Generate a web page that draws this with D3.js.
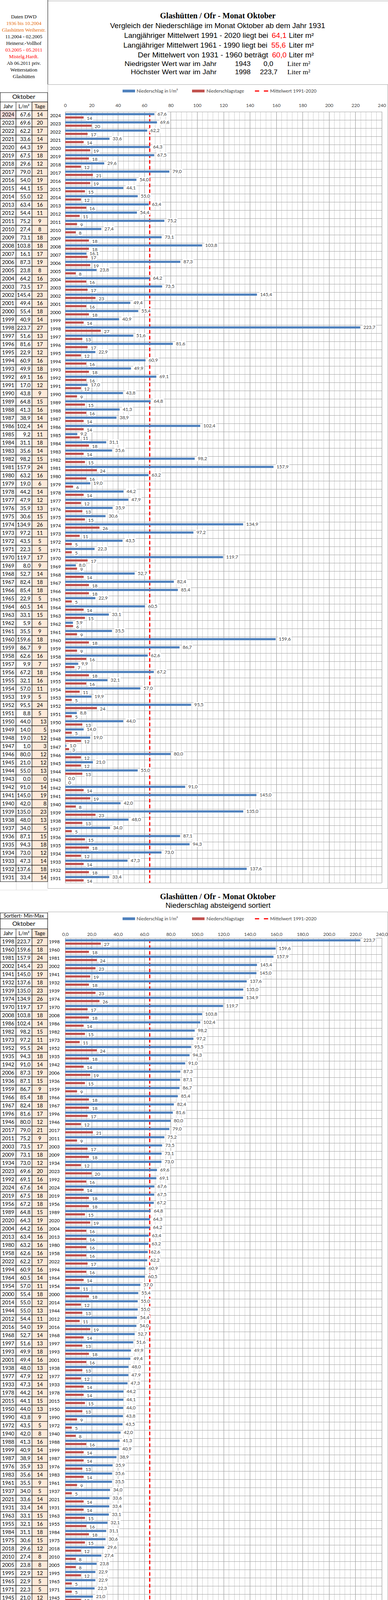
<!DOCTYPE html>
<html>
<head>
<meta charset="utf-8">
<script src="https://cdn.jsdelivr.net/npm/d3@7"></script>
<style>
  html, body { margin: 0; padding: 0; background: #fff; overflow: hidden; }
  svg { display: block; }
  text { font-family: Lato, "Open Sans", "Liberation Sans", sans-serif; }
  .serif { font-family: "Liberation Serif", "DejaVu Serif", serif; }
  .arial { font-family: "Liberation Sans", Arial, sans-serif; }
</style>
</head>
<body>
<svg id="chart" width="994" height="4397"></svg>
<script>
"use strict";

// October data, newest first (as in the original table)
var years = [2024, 2023, 2022, 2021, 2020, 2019, 2018, 2017, 2016, 2015, 2014, 2013, 2012, 2011, 2010, 2009,
  2008, 2007, 2006, 2005, 2004, 2003, 2002, 2001, 2000, 1999, 1998, 1997, 1996, 1995, 1994, 1993,
  1992, 1991, 1990, 1989, 1988, 1987, 1986, 1985, 1984, 1983, 1982, 1981, 1980, 1979, 1978, 1977,
  1976, 1975, 1974, 1973, 1972, 1971, 1970, 1969, 1968, 1967, 1966, 1965, 1964, 1963, 1962, 1961,
  1960, 1959, 1958, 1957, 1956, 1955, 1954, 1953, 1952, 1951, 1950, 1949, 1948, 1947, 1946, 1945,
  1944, 1943, 1942, 1941, 1940, 1939, 1938, 1937, 1936, 1935, 1934, 1933, 1932, 1931];

// Niederschlag in l/m²
var rain = [67.6, 69.6, 62.2, 33.6, 64.3, 67.5, 29.6, 79.0, 54.0, 44.1, 55.0, 63.4, 54.4, 75.2, 27.4, 73.1,
  103.8, 16.1, 87.3, 23.8, 64.2, 73.5, 145.4, 49.4, 55.4, 40.9, 223.7, 51.6, 81.6, 22.9, 60.9, 49.9,
  69.1, 17.0, 43.8, 64.8, 41.3, 38.9, 102.4, 9.2, 31.1, 35.6, 98.2, 157.9, 63.2, 19.0, 44.2, 47.9,
  35.9, 30.6, 134.9, 97.2, 43.5, 22.3, 119.7, 8.0, 52.7, 82.4, 85.4, 22.9, 60.5, 33.1, 5.9, 35.5,
  159.6, 86.7, 62.6, 9.9, 67.2, 32.1, 57.0, 19.9, 95.5, 8.8, 44.0, 14.0, 19.0, 1.0, 80.0, 21.0,
  55.0, 0.0, 91.0, 145.0, 42.0, 135.0, 48.0, 34.0, 87.1, 94.3, 73.0, 47.3, 137.6, 33.4];

// Niederschlagstage
var days = [14, 20, 17, 14, 19, 18, 12, 21, 19, 15, 12, 16, 11, 9, 8, 18,
  18, 17, 19, 8, 16, 17, 23, 16, 18, 14, 27, 13, 17, 12, 16, 18,
  16, 12, 9, 15, 16, 14, 14, 11, 18, 14, 15, 24, 16, 6, 14, 12,
  13, 15, 26, 11, 5, 5, 17, 9, 14, 18, 18, 5, 14, 15, 6, 9,
  18, 9, 16, 7, 18, 16, 11, 5, 24, 5, 13, 5, 12, 3, 12, 12,
  13, 0, 14, 19, 8, 23, 13, 5, 15, 18, 12, 14, 18, 14];

var xTicks = [0, 20, 40, 60, 80, 100, 120, 140, 160, 180, 200, 220, 240];

// long-term means (l/m²)
var meanLabels = ["1991 - 2020", "1961 - 1990", "1931 - 1960"];
var meanValues = [64.1, 55.6, 60.0];

var stationLines = ["Daten DWD", "1936 bis 10.2004", "Glashütten Weiherstr.", "11.2004 - 02.2005",
  "Heinersr.-Vollhof", "03.2005 - 05.2011", "Mistelg.Hardt.", "Ab 06.2011 priv.", "Wetterstation", "Glashütten"];

var legendLabels = ["Niederschlag  in  l/m²", "Niederschlagstage", "Mittelwert 1991-2020"];

// ---------------------------------------------------------------
var rows = years.map(function (y, i) { return { year: y, rain: rain[i], days: days[i] }; });
var sorted = rows.slice().sort(function (a, b) { return d3.descending(a.rain, b.rain); });

var de = d3.formatLocale({ decimal: ",", thousands: ".", grouping: [3], currency: ["", " €"] });
var f1 = de.format(".1f");

var BLUE = "#4f81bd", RED = "#c0504d", DASH = "#ff0000";
var rowH = 21;
var x = d3.scaleLinear().domain([0, 240]).range([167, 978]);

var svg = d3.select("#chart");

// text with a forced width (the original uses narrow, tall fonts)
function put(g, s, px, py, w, size, color, cls, weight) {
  var t = g.append("text").attr("x", px).attr("y", py).attr("font-size", size)
    .attr("fill", color || "#000").text(s);
  if (w) t.attr("textLength", w).attr("lengthAdjust", "spacingAndGlyphs");
  if (cls) t.attr("class", cls);
  if (weight) t.attr("font-weight", weight);
  return t;
}

function legend(g, ly) {
  g.append("rect").attr("x", 314).attr("y", ly - 3.5).attr("width", 32).attr("height", 7).attr("fill", BLUE);
  put(g, legendLabels[0], 350, ly + 4, 0, 12, "#404040");
  g.append("rect").attr("x", 492).attr("y", ly - 3.5).attr("width", 32).attr("height", 7).attr("fill", RED);
  put(g, legendLabels[1], 529, ly + 4, 0, 12, "#404040");
  g.append("line").attr("x1", 653).attr("x2", 688).attr("y1", ly).attr("y2", ly)
    .attr("stroke", DASH).attr("stroke-width", 3).attr("stroke-dasharray", "11,12");
  put(g, legendLabels[2], 692, ly + 4, 0, 12, "#404040");
}

function panel(data, opt) {
  var g = svg.append("g");
  var top = opt.plotTop, bottom = top + data.length * rowH;

  var y = d3.scaleBand().domain(data.map(function (d) { return d.year; })).range([top, bottom]);
  var sub = d3.scaleBand().domain(["rain", "days"]).range([0, y.bandwidth()])
    .paddingInner(0.35).paddingOuter(0.41);

  // chart area frame
  g.append("rect").attr("x", 122.5).attr("y", opt.frameTop + 0.5).attr("width", 871)
    .attr("height", opt.frameBottom - opt.frameTop).attr("fill", "none").attr("stroke", "#a6a6a6");

  legend(g, opt.legendY);

  // gridlines: minor every 4, major every 20
  var grid = g.append("g").attr("class", "grid");
  grid.selectAll(".minor").data(d3.range(0, 241, 4)).join("line").attr("class", "minor")
    .attr("x1", function (d) { return Math.round(x(d)) + 0.5; })
    .attr("x2", function (d) { return Math.round(x(d)) + 0.5; })
    .attr("y1", top).attr("y2", bottom).attr("stroke", "#c9c9c9");
  grid.selectAll(".major").data(xTicks).join("line").attr("class", "major")
    .attr("x1", function (d) { return Math.round(x(d)) + 0.5; })
    .attr("x2", function (d) { return Math.round(x(d)) + 0.5; })
    .attr("y1", top).attr("y2", bottom).attr("stroke", "#8a8a8a");
  grid.selectAll(".hrow").data(data.map(function (d) { return y(d.year); }).concat([bottom])).join("line")
    .attr("class", "hrow")
    .attr("x1", x(0)).attr("x2", x(240))
    .attr("y1", function (d) { return Math.round(d) + 0.5; })
    .attr("y2", function (d) { return Math.round(d) + 0.5; })
    .attr("stroke", "#a0a0a0");

  // top axis labels
  var ax = g.append("g").attr("transform", "translate(0," + opt.axisY + ")")
    .call(d3.axisTop(x).tickValues(xTicks).tickSize(0).tickPadding(0).tickFormat(opt.tickFmt));
  ax.select(".domain").remove();
  ax.selectAll("text").attr("font-size", 12).attr("fill", "#404040")
    .style("font-family", "Lato, sans-serif");

  // year labels
  var ay = g.append("g").attr("transform", "translate(" + opt.yearX + ",0)")
    .call(d3.axisLeft(y).tickSize(0).tickPadding(0));
  ay.select(".domain").remove();
  ay.selectAll("text").attr("font-size", 12).attr("fill", "#000")
    .style("font-family", "Lato, sans-serif");

  // mean line
  g.append("line").attr("x1", x(meanValues[0])).attr("x2", x(meanValues[0]))
    .attr("y1", top + 4).attr("y2", bottom)
    .attr("stroke", DASH).attr("stroke-width", 3).attr("stroke-dasharray", "9,6");

  // bars
  g.selectAll(".bar.rain").data(data).join("rect").attr("class", "bar rain")
    .attr("x", x(0)).attr("y", function (d) { return y(d.year) + sub("rain"); })
    .attr("width", function (d) { return x(d.rain) - x(0); })
    .attr("height", sub.bandwidth()).attr("fill", BLUE);
  g.selectAll(".bar.days").data(data).join("rect").attr("class", "bar days")
    .attr("x", x(0)).attr("y", function (d) { return y(d.year) + sub("days"); })
    .attr("width", function (d) { return x(d.days) - x(0); })
    .attr("height", sub.bandwidth()).attr("fill", RED);

  // data labels with white boxes
  function labels(cls, key, fmt, dy) {
    var lab = g.selectAll("." + cls).data(data).join("g").attr("class", cls);
    lab.append("rect").attr("fill", "#fff");
    lab.append("text").attr("font-size", 12).attr("fill", "#404040")
      .attr("x", function (d) { return x(d[key]) + 8; })
      .attr("y", function (d) { return y(d.year) + sub(key) + sub.bandwidth() / 2 + dy; })
      .attr("dy", "0.35em").text(function (d) { return fmt(d[key]); });
    lab.each(function () {
      var b = d3.select(this).select("text").node().getBBox();
      d3.select(this).select("rect").attr("x", b.x - 2).attr("y", b.y + 1)
        .attr("width", b.width + 4).attr("height", b.height - 2);
    });
  }
  labels("lab-rain", "rain", f1, 0);
  labels("lab-days", "days", d3.format("d"), 2);

  // left table
  var tTop = opt.tableTop;
  var tb = g.append("g").attr("class", "table");
  var cols = [0.5, 41, 82, 122];

  // empty spreadsheet row below the table
  var tEnd = tTop + data.length * rowH;
  tb.selectAll(".empty").data([41.5, 82.5]).join("line").attr("class", "empty")
    .attr("x1", function (d) { return d; }).attr("x2", function (d) { return d; })
    .attr("y1", tEnd).attr("y2", tEnd + rowH).attr("stroke", "#d9d9d9");
  tb.append("line").attr("x1", 0).attr("x2", 122).attr("y1", tEnd + rowH + 0.5).attr("y2", tEnd + rowH + 0.5)
    .attr("stroke", "#d9d9d9");

  var tr = tb.selectAll(".tr").data(data).join("g").attr("class", "tr")
    .attr("transform", function (d, i) { return "translate(0," + (tTop + i * rowH) + ")"; });
  tr.append("rect").attr("x", cols[0]).attr("width", cols[1] - cols[0]).attr("height", rowH)
    .attr("fill", function (d, i) { return opt.highlightFirst && i === 0 ? "#f2dcdb" : "#fff"; });
  tr.append("rect").attr("x", cols[1]).attr("width", cols[2] - cols[1]).attr("height", rowH).attr("fill", "#fff");
  tr.append("rect").attr("x", cols[2]).attr("width", cols[3] - cols[2]).attr("height", rowH).attr("fill", "#fde9d9");
  tr.selectAll("rect").attr("stroke", "#000").attr("stroke-width", 1);
  tr.append("text").attr("x", 21).attr("y", rowH / 2).attr("dy", "0.36em").attr("text-anchor", "middle")
    .attr("font-size", 13.5).text(function (d) { return d.year; });
  tr.append("text").attr("x", 78).attr("y", rowH / 2).attr("dy", "0.36em").attr("text-anchor", "end")
    .attr("font-size", 13.5).text(function (d) { return f1(d.rain); });
  tr.append("text")
    .attr("x", function (d) { return opt.rightOld && d.year <= 1950 ? 119 : 102; })
    .attr("text-anchor", function (d) { return opt.rightOld && d.year <= 1950 ? "end" : "middle"; })
    .attr("y", rowH / 2).attr("dy", "0.36em").attr("font-size", 13.5).text(function (d) { return d.days; });

  // table head
  var hd = g.append("g");
  hd.append("rect").attr("x", 0.5).attr("y", opt.headTop).attr("width", 121.5).attr("height", tTop - opt.headTop)
    .attr("fill", "#fff").attr("stroke", "#000");
  hd.append("line").attr("x1", 0).attr("x2", 122).attr("y1", tTop - 22).attr("y2", tTop - 22).attr("stroke", "#000");
  hd.selectAll(".vh").data([41, 82]).join("line").attr("x1", function (d) { return d; }).attr("x2", function (d) { return d; })
    .attr("y1", tTop - 22).attr("y2", tTop).attr("stroke", "#000");
  hd.append("rect").attr("x", 82).attr("y", tTop - 22).attr("width", 40).attr("height", 22).attr("fill", "#fde9d9")
    .attr("stroke", "#000");
  put(hd, "Oktober", 61, tTop - 30, 0, 16, "#000").attr("text-anchor", "middle");
  put(hd, "Jahr", 21, tTop - 6, 0, 13.5, "#000").attr("text-anchor", "middle");
  put(hd, "L/m²", 61.5, tTop - 6, 0, 13.5, "#000").attr("text-anchor", "middle");
  put(hd, "Tage", 102, tTop - 6, 0, 13.5, "#000").attr("text-anchor", "middle");
  return hd;
}

// ---------------- header of the first panel ----------------
var head = svg.append("g");
head.append("line").attr("x1", 122).attr("x2", 994).attr("y1", 2.5).attr("y2", 2.5).attr("stroke", "#a6a6a6");
head.append("line").attr("x1", 122.5).attr("x2", 122.5).attr("y1", 0).attr("y2", 237).attr("stroke", "#000");

var stationColor = ["#000", "#e46c0a", "#e46c0a", "#000", "#000", "#ff0000", "#ff0000", "#000", "#000", "#000"];
stationLines.forEach(function (s, i) {
  put(head, s, 61, 47 + i * 17, 0, 13, stationColor[i], "serif").attr("text-anchor", "middle");
});

var yMin = d3.min(years), lo = d3.least(rows, function (d) { return d.rain; }),
    hi = d3.greatest(rows, function (d) { return d.rain; });

put(head, "Glashütten / Ofr - Monat Oktober", 410, 47, 296, 21, "#000", "serif", "bold");
put(head, "Vergleich der Niederschläge im  Monat Oktober ab dem Jahr " + yMin, 282, 72, 551, 18, "#000", "arial");
put(head, "Langjähriger Mittelwert " + meanLabels[0] + "  liegt bei", 318, 97, 369, 18, "#000", "arial");
put(head, f1(meanValues[0]), 696, 97, 38, 18, "#ff0000", "arial");
put(head, "Liter m²", 740, 97, 64, 18, "#000", "arial");
put(head, "Langjähriger Mittelwert " + meanLabels[1] + "  liegt bei", 316, 122, 369, 18, "#000", "arial");
put(head, f1(meanValues[1]), 695, 122, 37, 18, "#ff0000", "arial");
put(head, "Liter m²", 740, 122, 64, 18, "#000", "arial");
put(head, "Der Mittelwert von  " + meanLabels[2] + "   beträgt", 353, 147, 334, 18, "#000", "arial");
put(head, f1(meanValues[2]), 697, 147, 37, 18, "#ff0000", "arial");
put(head, "Liter m²", 740, 147, 64, 18, "#000", "arial");
put(head, "Niedrigster Wert war im Jahr", 319, 169, 236, 17, "#000", "arial");
put(head, lo.year, 602, 169, 40, 17, "#000", "arial");
put(head, f1(lo.rain), 675, 169, 25, 17, "#000", "arial");
put(head, "Liter m²", 736, 169, 59, 17, "#000", "serif");
put(head, "Höchster Wert war im Jahr", 335, 190, 220, 17, "#000", "arial");
put(head, hi.year, 602, 190, 40, 17, "#000", "arial");
put(head, f1(hi.rain), 666, 190, 45, 17, "#000", "arial");
put(head, "Liter m²", 736, 190, 59, 17, "#000", "serif");

panel(rows, {
  plotTop: 286, tableTop: 283, headTop: 237, frameTop: 216, frameBottom: 2274,
  legendY: 233, axisY: 274, yearX: 156, tickFmt: d3.format("d"),
  highlightFirst: true, rightOld: true
});

// ---------------- second panel: sorted ----------------
var head2 = svg.append("g");
put(head2, "Glashütten / Ofr - Monat Oktober", 410, 2302, 296, 21, "#000", "serif", "bold");
put(head2, "Niederschlag absteigend sortiert", 424, 2324, 269, 18, "#000", "arial");

var hd2 = panel(sorted, {
  plotTop: 2401, tableTop: 2400, headTop: 2352, frameTop: 2334, frameBottom: 4385,
  legendY: 2352, axisY: 2396, yearX: 153, tickFmt: f1,
  highlightFirst: false, rightOld: false
});
hd2.append("rect").attr("x", 0.5).attr("y", 2337).attr("width", 121.5).attr("height", 15)
  .attr("fill", "#fff").attr("stroke", "#000");
put(hd2, "Sortiert- Min-Max", 61, 2349, 0, 13, "#000").attr("text-anchor", "middle");
</script>
</body>
</html>
